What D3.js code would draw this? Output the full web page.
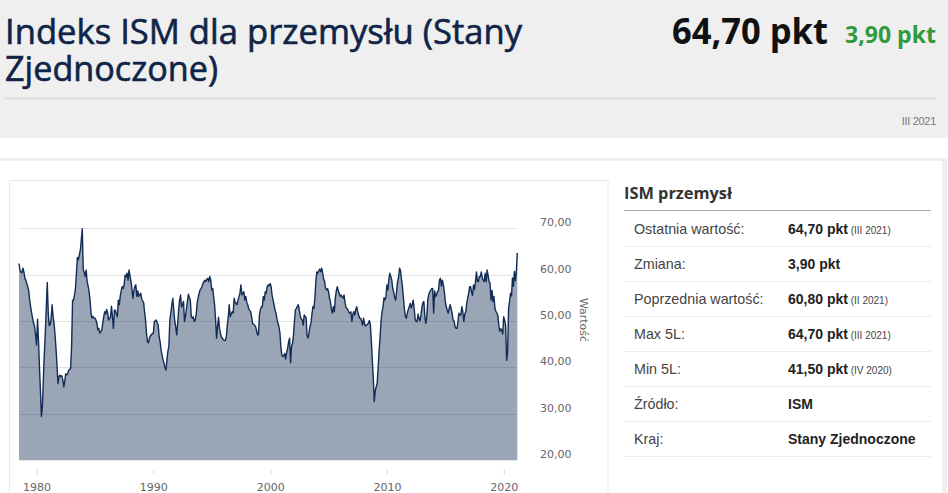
<!DOCTYPE html>
<html><head><meta charset="utf-8">
<script src="https://cdn.jsdelivr.net/npm/d3@7"></script>
<style>
html,body{margin:0;padding:0;background:#fff;}
svg{display:block;}
</style></head>
<body>
<svg id="c" width="948" height="493"></svg>
<script>
// ---- data ----
const startMonth = [1978, 6]; // July 1978 (year, monthIndex)
const ismValues = [
  62.4, 61.0, 60.5, 60.4, 61.4, 60.6,                               // 1978 (VII-XII)
  59.2, 58.8, 58.1, 57.4, 56.5, 54.5, 53.0, 51.7, 50.5, 49.5, 48.8, 47.0, // 1979
  44.8, 50.4, 46.0, 40.0, 35.0, 29.4, 31.5, 37.5, 43.0, 47.5, 53.0, 58.3, // 1980
  51.7, 49.0, 49.2, 50.5, 53.5, 51.0, 49.5, 47.0, 44.0, 40.5, 36.5, 38.0, // 1981
  38.3, 38.0, 38.2, 37.3, 35.8, 37.0, 38.6, 38.4, 38.6, 39.4, 39.5, 39.8, // 1982
  44.5, 54.5, 54.5, 55.5, 57.0, 60.3, 63.7, 63.2, 64.3, 65.3, 67.5, 69.9, // 1983
  61.0, 60.5, 59.6, 61.0, 58.5, 57.5, 56.3, 54.5, 51.5, 50.7, 51.0, 50.6, // 1984
  50.6, 50.2, 49.5, 48.1, 48.4, 47.4, 47.7, 48.0, 49.5, 50.9, 52.0, 51.5, // 1985
  52.5, 51.8, 50.2, 50.5, 50.9, 53.2, 50.9, 48.4, 52.3, 52.3, 51.5, 50.9, // 1986
  54.5, 53.5, 55.3, 56.5, 57.4, 57.0, 57.8, 59.9, 59.5, 60.3, 58.8, 61.0, // 1987
  59.8, 58.5, 57.0, 54.9, 56.5, 57.4, 57.8, 55.3, 56.5, 55.3, 55.6, 56.0, // 1988
  54.8, 54.3, 54.0, 52.0, 50.2, 47.3, 45.5, 45.3, 46.3, 46.8, 47.0, 47.3, // 1989
  47.3, 49.9, 50.0, 50.2, 49.6, 49.1, 46.6, 45.5, 43.7, 42.5, 41.6, 40.9, // 1990
  39.9, 39.4, 41.6, 43.5, 44.5, 50.2, 51.7, 53.5, 54.9, 52.4, 50.0, 48.8, // 1991
  47.0, 49.5, 52.4, 54.5, 55.6, 53.0, 53.5, 54.2, 49.9, 51.0, 52.5, 54.2, // 1992
  55.8, 55.0, 54.5, 51.0, 50.6, 50.9, 49.9, 50.2, 51.3, 53.8, 55.0, 56.0, // 1993
  56.7, 57.0, 57.4, 58.1, 58.5, 58.8, 58.5, 59.0, 59.2, 58.5, 59.6, 58.8, // 1994
  56.7, 57.0, 55.2, 53.5, 50.2, 46.3, 48.8, 50.8, 48.4, 47.3, 46.5, 46.3, // 1995
  45.9, 45.8, 45.8, 46.6, 49.1, 50.9, 53.5, 50.9, 51.5, 52.0, 51.7, 54.9, // 1996
  54.0, 53.8, 53.5, 54.5, 55.2, 56.0, 57.8, 55.6, 56.0, 56.3, 54.5, 55.3, // 1997
  54.0, 53.5, 52.7, 52.3, 52.0, 50.9, 49.5, 49.3, 49.1, 48.8, 48.0, 47.0, // 1998
  47.0, 51.3, 52.4, 53.1, 53.1, 55.3, 54.5, 56.3, 56.0, 57.4, 57.8, 57.6, // 1999
  58.1, 57.4, 55.6, 54.5, 53.5, 52.4, 51.7, 50.5, 49.5, 48.8, 47.5, 44.5, // 2000
  42.7, 42.3, 42.5, 43.0, 41.8, 43.2, 44.1, 45.5, 46.3, 41.0, 44.5, 45.2, // 2001
  47.0, 50.0, 52.4, 52.7, 53.2, 53.5, 52.4, 51.0, 50.4, 50.2, 49.1, 51.3, // 2002
  51.0, 50.6, 46.8, 46.3, 47.5, 48.8, 49.5, 51.5, 53.1, 52.7, 55.0, 58.5, // 2003
  60.6, 60.3, 60.8, 61.2, 60.6, 61.4, 60.3, 59.0, 58.5, 57.0, 56.7, 57.0, // 2004
  56.3, 54.9, 54.2, 52.5, 51.7, 53.1, 52.0, 55.0, 56.5, 57.4, 56.5, 56.0, // 2005
  55.3, 55.6, 55.2, 54.9, 55.6, 54.0, 52.9, 52.7, 52.4, 51.8, 51.7, 52.0, // 2006
  49.9, 51.5, 52.0, 51.3, 52.5, 53.1, 52.0, 51.3, 50.6, 50.6, 50.0, 49.1, // 2007
  50.6, 49.4, 48.9, 49.1, 49.3, 49.5, 50.1, 49.1, 45.5, 41.5, 37.5, 32.6, // 2008
  35.0, 35.8, 36.5, 40.0, 43.5, 46.5, 50.0, 52.0, 53.0, 55.0, 54.5, 55.3, // 2009
  57.8, 56.7, 59.0, 60.3, 59.6, 58.8, 57.0, 56.3, 55.0, 54.5, 56.5, 58.5, // 2010
  59.5, 61.4, 60.9, 59.0, 57.4, 55.0, 52.5, 51.0, 50.6, 51.7, 52.5, 53.1, // 2011
  53.8, 52.8, 53.5, 54.5, 52.7, 50.5, 49.9, 49.9, 51.5, 50.5, 50.0, 51.3, // 2012
  53.1, 54.0, 54.2, 50.9, 49.5, 51.0, 54.5, 55.7, 56.3, 56.6, 57.0, 57.0, // 2013
  51.7, 56.5, 55.3, 55.6, 56.3, 56.5, 58.8, 59.2, 57.5, 58.8, 57.8, 56.3, // 2014
  54.2, 53.0, 52.4, 51.7, 52.7, 53.5, 52.7, 51.7, 50.2, 50.0, 48.8, 48.4, // 2015
  48.4, 49.9, 51.7, 51.3, 51.3, 53.1, 52.0, 49.9, 51.5, 52.0, 53.8, 55.0, // 2016
  56.0, 57.4, 57.4, 56.3, 55.5, 57.8, 56.8, 58.5, 60.6, 58.5, 58.5, 59.6, // 2017
  59.6, 60.6, 59.3, 58.8, 58.5, 60.3, 58.5, 61.0, 59.8, 58.5, 58.1, 54.5, // 2018
  56.6, 54.2, 55.3, 52.8, 52.1, 51.7, 51.2, 49.1, 47.8, 48.3, 48.1, 47.2, // 2019
  50.9, 50.1, 49.1, 41.5, 43.1, 52.6, 54.2, 56.0, 55.4, 59.3, 57.5, 60.7, // 2020
  58.7, 60.8, 64.7                                                   // 2021 (I-III)
];
const yTicks = [20, 30, 40, 50, 60, 70];
const xTickYears = [1980, 1990, 2000, 2010, 2020];

const titleLines = ["Indeks ISM dla przemysłu (Stany", "Zjednoczone)"];
const headValue = "64,70 pkt";
const headChange = "3,90 pkt";
const headPeriod = "III 2021";
const axisTitle = "Wartość";

const panelTitle = "ISM przemysł";
const tableLabels = ["Ostatnia wartość:", "Zmiana:", "Poprzednia wartość:", "Max 5L:", "Min 5L:", "Źródło:", "Kraj:"];
const tableValues = ["64,70 pkt", "3,90 pkt", "60,80 pkt", "64,70 pkt", "41,50 pkt", "ISM", "Stany Zjednoczone"];
const tableNotes  = ["(III 2021)", "", "(II 2021)", "(III 2021)", "(IV 2020)", "", ""];

// ---- drawing ----
const svg = d3.select("#c");
const start = new Date(startMonth[0], startMonth[1], 1);
const series = ismValues.map((v, i) => ({date: d3.timeMonth.offset(start, i), value: v}));

// header background
svg.append("rect").attr("x", 0).attr("y", 0).attr("width", 948).attr("height", 138).attr("fill", "#efefef");
// lower container border
svg.append("rect").attr("x", 0).attr("y", 158).attr("width", 947).attr("height", 335).attr("fill", "#efefef");
svg.append("rect").attr("x", 0).attr("y", 161).attr("width", 942).attr("height", 332).attr("fill", "#fff");

const titleFont = "'Open Sans', 'Noto Sans', sans-serif";
svg.append("text").attr("x", 5).attr("y", 44).text(titleLines[0])
  .attr("font-family", titleFont).attr("font-size", 34).attr("fill", "#0f2548")
  .attr("stroke", "#0f2548").attr("stroke-width", 0.6)
  .attr("textLength", 517).attr("lengthAdjust", "spacingAndGlyphs");
svg.append("text").attr("x", 5).attr("y", 81).text(titleLines[1])
  .attr("font-family", titleFont).attr("font-size", 34).attr("fill", "#0f2548")
  .attr("stroke", "#0f2548").attr("stroke-width", 0.6)
  .attr("textLength", 213).attr("lengthAdjust", "spacingAndGlyphs");

svg.append("text").attr("x", 672).attr("y", 44).text(headValue)
  .attr("font-family", titleFont).attr("font-weight", 700).attr("font-size", 35).attr("fill", "#111")
  .attr("textLength", 156).attr("lengthAdjust", "spacingAndGlyphs");
svg.append("text").attr("x", 845).attr("y", 43).text(headChange)
  .attr("font-family", titleFont).attr("font-weight", 700).attr("font-size", 23).attr("fill", "#2f9a3c")
  .attr("textLength", 91).attr("lengthAdjust", "spacingAndGlyphs");

svg.append("line").attr("x1", 5).attr("x2", 936).attr("y1", 98.5).attr("y2", 98.5)
  .attr("stroke", "#d8d8d8").attr("stroke-width", 1.5);
svg.append("text").attr("x", 936).attr("y", 125).attr("text-anchor", "end").text(headPeriod)
  .attr("font-family", "'Liberation Sans', Arial, sans-serif").attr("font-size", 11).attr("fill", "#777")
  .attr("letter-spacing", -0.3);

// chart box
svg.append("rect").attr("x", 9.5).attr("y", 180.5).attr("width", 598.5).attr("height", 320)
  .attr("fill", "#fff").attr("stroke", "#e8e8e8");

const x = d3.scaleTime().domain([series[0].date, series[series.length - 1].date]).range([19, 517.3]);
const y = d3.scaleLinear().domain([20, 70]).range([460, 228.3]);

const loc = d3.formatLocale({decimal: ",", thousands: " ", grouping: [3], currency: ["", ""]});
const fmt = loc.format(".2f");
const axisFont = "'DejaVu Sans', Verdana, sans-serif";

// gridlines
svg.append("g").selectAll("line").data(yTicks.filter(t => t > 20)).join("line")
  .attr("x1", 19).attr("x2", 517.3)
  .attr("y1", d => Math.round(y(d)) + 0.5).attr("y2", d => Math.round(y(d)) + 0.5)
  .attr("stroke", "#e2e2e2").attr("stroke-width", 1);

// area + line
const area = d3.area().x(d => x(d.date)).y0(y(20)).y1(d => y(d.value));
const line = d3.line().x(d => x(d.date)).y(d => y(d.value));
svg.append("path").datum(series).attr("d", area).attr("fill", "#0e2a50").attr("fill-opacity", 0.42);
svg.append("path").datum(series).attr("d", line).attr("fill", "none")
  .attr("stroke", "#132c55").attr("stroke-width", 1.4).attr("stroke-linejoin", "round");

// bottom axis line
svg.append("line").attr("x1", 19).attr("x2", 517.3).attr("y1", 460.5).attr("y2", 460.5)
  .attr("stroke", "#e4e4e4");

// y axis (right side labels)
const yAxis = d3.axisRight(y).tickValues(yTicks).tickFormat(fmt).tickSize(0).tickPadding(0);
const gy = svg.append("g").attr("transform", "translate(540,0)").call(yAxis);
gy.select(".domain").remove();
gy.selectAll("text").attr("font-family", axisFont).attr("font-size", 11).attr("fill", "#666")
  .attr("dy", "-0.22em");

// x axis
const xAxis = d3.axisBottom(x).tickValues(xTickYears.map(yr => new Date(yr, 0, 1)))
  .tickFormat(d3.timeFormat("%Y")).tickSize(5).tickPadding(9);
const gx = svg.append("g").attr("transform", "translate(0,469.5)").call(xAxis);
gx.select(".domain").remove();
gx.selectAll(".tick line").attr("stroke", "#ccd6eb");
gx.selectAll("text").attr("font-family", axisFont).attr("font-size", 11).attr("fill", "#666");

// axis title
svg.append("text").attr("transform", "translate(580,320) rotate(90)").attr("text-anchor", "middle")
  .text(axisTitle).attr("font-family", axisFont).attr("font-size", 11).attr("fill", "#666");

// table panel
const tFont = "'Liberation Sans', Arial, sans-serif";
svg.append("text").attr("x", 624).attr("y", 199).text(panelTitle)
  .attr("font-family", "'Open Sans', sans-serif").attr("font-weight", 700).attr("font-size", 16).attr("fill", "#333")
  .attr("textLength", 108).attr("lengthAdjust", "spacingAndGlyphs");
svg.append("line").attr("x1", 624).attr("x2", 931).attr("y1", 210.5).attr("y2", 210.5)
  .attr("stroke", "#aaa").attr("stroke-width", 1.2);

const rowH = 35;
const rows = svg.append("g").selectAll("g").data(tableLabels).join("g")
  .attr("transform", (d, i) => `translate(0,${211 + i * rowH})`);
rows.append("line").attr("x1", 624).attr("x2", 931).attr("y1", rowH + 0.5).attr("y2", rowH + 0.5)
  .attr("stroke", "#ececec");
rows.append("text").attr("x", 634).attr("y", 23).text(d => d)
  .attr("font-family", tFont).attr("font-size", 14.3).attr("fill", "#444");
const vt = rows.append("text").attr("x", 788).attr("y", 23)
  .attr("font-family", tFont).attr("fill", "#222");
vt.append("tspan").text((d, i) => tableValues[i]).attr("font-weight", 700).attr("font-size", 14);
vt.append("tspan").text((d, i) => tableNotes[i] ? " " + tableNotes[i] : "")
  .attr("font-size", 10).attr("fill", "#444");
</script>
</body></html>
